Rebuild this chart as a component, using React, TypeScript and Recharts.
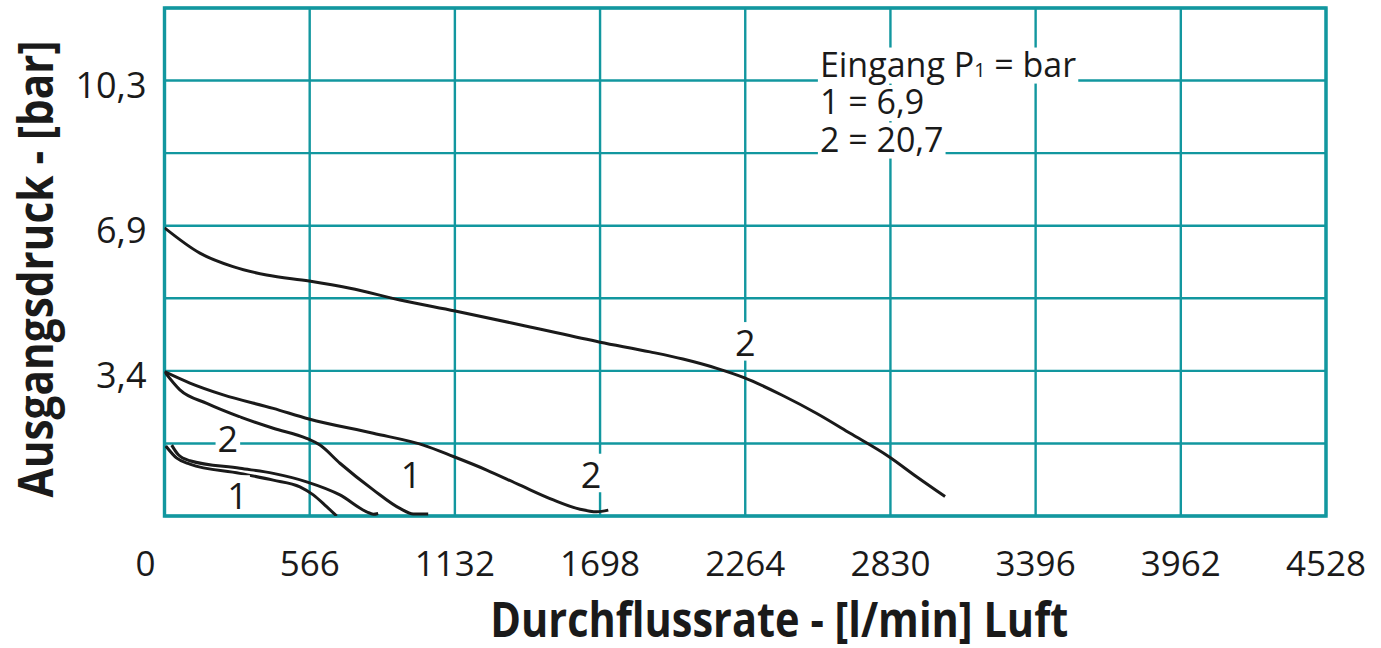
import React, { useLayoutEffect, useRef, useState } from 'react';
import { LineChart, Line, XAxis, YAxis, CartesianGrid, ReferenceArea, ReferenceDot, Label } from 'recharts';

// ---- axes ----
const xTicks = [0, 566, 1132, 1698, 2264, 2830, 3396, 3962, 4528];
const yTicks = [0, 1.72, 3.44, 5.16, 6.88, 8.6, 10.32, 12.04];
const yLabeledTicks = [3.44, 6.88, 10.32];
const xTitle = 'Durchflussrate - [l/min] Luft';
const yTitle = 'Ausgangsdruck - [bar]';

// ---- series (flow l/min, pressure bar) ----
const flowSet69In207 = [0, 138, 267, 398, 564, 723, 918, 1133, 1425, 1698, 1893, 2021, 2153, 2259, 2412, 2543, 2673, 2823, 2932, 3043];
const pressSet69In207 = [6.83, 6.23, 5.91, 5.71, 5.57, 5.4, 5.12, 4.86, 4.48, 4.12, 3.89, 3.72, 3.5, 3.28, 2.85, 2.43, 1.96, 1.41, 0.93, 0.46];

const flowSet34In207 = [0, 99, 229, 424, 563, 814, 1009, 1126, 1256, 1386, 1516, 1620, 1685, 1730];
const pressSet34In207 = [3.42, 3.15, 2.87, 2.55, 2.3, 1.96, 1.68, 1.41, 1.09, 0.73, 0.38, 0.16, 0.1, 0.14];

const flowSet34In69 = [0, 60, 165, 294, 424, 554, 606, 684, 814, 918, 970, 1028];
const pressSet34In69 = [3.42, 2.99, 2.67, 2.35, 2.08, 1.84, 1.68, 1.25, 0.62, 0.18, 0.05, 0.05];

const flowSet17In69 = [5, 48, 99, 294, 424, 528, 580, 632, 671];
const pressSet17In69 = [1.66, 1.37, 1.23, 1.01, 0.85, 0.69, 0.5, 0.22, 0.0];

const flowSet17In207 = [28, 54, 99, 294, 424, 554, 684, 788, 814, 833];
const pressSet17In207 = [1.68, 1.45, 1.31, 1.13, 1.01, 0.81, 0.5, 0.1, 0.04, 0.06];

// ---- curve labels ----
const curveLabelTexts = ['2', '2', '1', '1', '2'];
const curveLabelFlows = [2264, 247, 285, 961, 1663];
const curveLabelPress = [4.09, 1.81, 0.46, 0.97, 0.97];

// ---- legend ----
const legendLines = ['Eingang P|1| = bar', '1 = 6,9', '2 = 20,7'];
const legendFlow = 2555;
const legendPress = 10.41;

const GRID = '#12979f';
const INK = '#1a1a1a';
const FONT = '"Open Sans", "Noto Sans", sans-serif';

const toPoints = (xs: number[], ys: number[]) => xs.map((f, i) => ({ flow: f, pressure: ys[i] }));
const series = [
  toPoints(flowSet69In207, pressSet69In207),
  toPoints(flowSet34In207, pressSet34In207),
  toPoints(flowSet34In69, pressSet34In69),
  toPoints(flowSet17In69, pressSet17In69),
  toPoints(flowSet17In207, pressSet17In207),
];

function BoxedText(props: any) {
  const { x, y, fontSize, anchor, content, padX, topK, botK } = props;
  const ref = useRef<SVGTextElement>(null);
  const [bb, setBb] = useState<{ x: number; width: number } | null>(null);
  useLayoutEffect(() => {
    if (ref.current) {
      const b = ref.current.getBBox();
      setBb({ x: b.x, width: b.width });
    }
  }, [x, y, content]);
  const parts = String(content).split('|');
  return (
    <g>
      {bb && (
        <rect x={bb.x - padX} y={y - topK * fontSize} width={bb.width + 2 * padX} height={(topK + botK) * fontSize} fill="#fff" />
      )}
      <text ref={ref} x={x} y={y} textAnchor={anchor} fontSize={fontSize} fontFamily={FONT} fill={INK}>
        {parts[0]}
        {parts.length > 1 && <tspan fontSize={fontSize * 0.58}>{parts[1]}</tspan>}
        {parts.length > 2 && parts[2]}
      </text>
    </g>
  );
}

const XTick = (props: any) => {
  const { x, y, payload } = props;
  const v = payload.value;
  const shift = v === 0 ? -19 : 0;
  return (
    <text x={x + shift} y={y + 60} textAnchor="middle" fontSize={35} fontFamily={FONT} fill={INK}>
      {String(v)}
    </text>
  );
};

const YTick = (props: any) => {
  const { x, y, payload } = props;
  const v = payload.value;
  if (!yLabeledTicks.includes(v)) return null;
  return (
    <text x={x - 18} y={y + 17} textAnchor="end" fontSize={36} fontFamily={FONT} fill={INK}>
      {v.toFixed(1).replace('.', ',')}
    </text>
  );
};

const XTitle = (props: any) => {
  const vb = props.viewBox;
  return (
    <text
      x={vb.x + vb.width / 2 + 34}
      y={vb.y + 121}
      textAnchor="middle"
      fontSize={48}
      fontWeight="bold"
      fontFamily={FONT}
      fill={INK}
      textLength={578}
      lengthAdjust="spacingAndGlyphs"
    >
      {xTitle}
    </text>
  );
};

const YTitle = (props: any) => {
  const vb = props.viewBox;
  const cx = vb.x - 12;
  const cy = vb.y + vb.height / 2 + 7;
  return (
    <text
      x={cx}
      y={cy}
      transform={`rotate(-90 ${cx} ${cy})`}
      textAnchor="middle"
      fontSize={48}
      fontWeight="bold"
      fontFamily={FONT}
      fill={INK}
      textLength={457}
      lengthAdjust="spacingAndGlyphs"
    >
      {yTitle}
    </text>
  );
};

export default function App() {
  return (
    <div style={{ position: 'absolute', left: 0, top: 0, width: 1381, height: 648, background: '#fff' }}>
      <LineChart width={1381} height={648} margin={{ top: 8, right: 55, bottom: 72, left: 64.5 }}>
        <CartesianGrid stroke={GRID} strokeWidth={2.4} />
        <XAxis
          type="number"
          dataKey="flow"
          domain={[0, 4528]}
          ticks={xTicks}
          interval={0}
          tick={<XTick />}
          tickLine={false}
          axisLine={false}
          tickSize={0}
          tickMargin={0}
          height={60}
          allowDataOverflow
        >
          <Label content={<XTitle />} />
        </XAxis>
        <YAxis
          type="number"
          domain={[0, 12.04]}
          ticks={yTicks}
          interval={0}
          tick={<YTick />}
          tickLine={false}
          axisLine={false}
          tickSize={0}
          tickMargin={0}
          width={100}
          allowDataOverflow
        >
          <Label content={<YTitle />} />
        </YAxis>
        <ReferenceArea x1={0} x2={4528} y1={0} y2={12.04} fill="none" stroke={GRID} strokeWidth={3.4} ifOverflow="visible" />
        {curveLabelTexts.map((t, i) => (
          <ReferenceDot
            key={'cl' + i}
            x={curveLabelFlows[i]}
            y={curveLabelPress[i]}
            r={0}
            ifOverflow="visible"
            shape={(p: any) => (
              <BoxedText x={p.cx} y={p.cy + 0.357 * 36} fontSize={36} anchor="middle" content={t} padX={2} topK={0.95} botK={0.12} />
            )}
          />
        ))}
        {legendLines.map((t, i) => (
          <ReferenceDot
            key={'lg' + i}
            x={legendFlow}
            y={legendPress}
            r={0}
            ifOverflow="visible"
            shape={(p: any) => (
              <BoxedText x={p.cx} y={p.cy + i * 37.5} fontSize={34} anchor="start" content={t} padX={2} topK={0.86} botK={0.2} />
            )}
          />
        ))}
        {series.map((d, i) => (
          <Line
            key={'s' + i}
            data={d}
            dataKey="pressure"
            type="monotone"
            stroke={INK}
            strokeWidth={3}
            dot={false}
            activeDot={false}
            isAnimationActive={false}
          />
        ))}
      </LineChart>
    </div>
  );
}
